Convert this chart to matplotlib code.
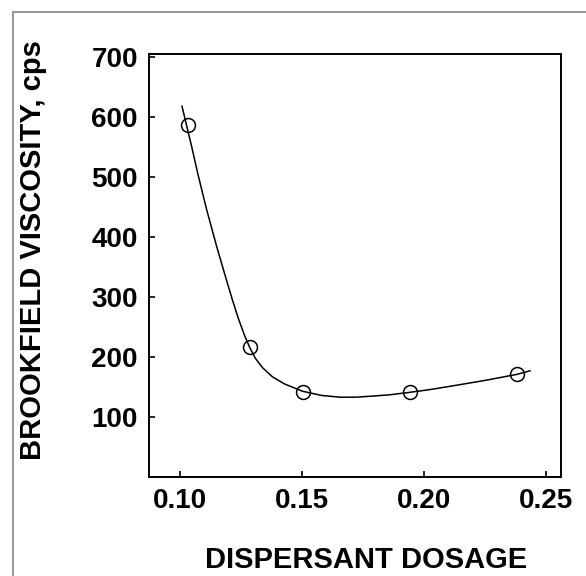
import matplotlib.pyplot as plt

plt.rcParams['font.family'] = ['Liberation Sans', 'DejaVu Sans']
plt.rcParams['font.weight'] = 'bold'

# measured points
dosage = [0.1034, 0.1288, 0.1504, 0.1943, 0.2380]
viscosity = [586, 217, 142, 142, 171]

# fitted curve
curve_x = [0.1010, 0.1030, 0.1050, 0.1075, 0.1110, 0.1150, 0.1190, 0.1215,
           0.1240, 0.1265, 0.1287, 0.1310, 0.1340, 0.1380, 0.1430, 0.1503,
           0.1580, 0.1656, 0.1720, 0.1796, 0.1860, 0.1940, 0.2030, 0.2134,
           0.2250, 0.2380, 0.2434]
curve_y = [618, 584, 550, 505, 447, 387, 331, 297,
           265, 237, 216, 198, 182, 167, 155, 143,
           136, 133, 133, 135, 137, 141, 146, 153,
           161, 171, 177]

x_ticks = [0.10, 0.15, 0.20, 0.25]
x_labels = ['0.10', '0.15', '0.20', '0.25']
y_ticks = [100, 200, 300, 400, 500, 600, 700]

fig = plt.figure(figsize=(5.86, 5.76), dpi=100)
ax = fig.add_axes([149 / 586, 1 - 477 / 576, 412 / 586, 423 / 576])

ax.plot(curve_x, curve_y, color='black', lw=1.1)
ax.plot(dosage, viscosity, 'o', mfc='none', mec='black', ms=10, mew=1.1)

ax.set_xlim(0.0875, 0.2561)
ax.set_ylim(0, 705)
ax.set_xticks(x_ticks)
ax.set_xticklabels(x_labels)
ax.set_yticks(y_ticks)
ax.tick_params(direction='in', length=4, width=1.2, labelsize=20, pad=8)
for s in ax.spines.values():
    s.set_linewidth(1.4)

fig.text(33 / 586, 1 - 250 / 576, 'BROOKFIELD VISCOSITY, cps', rotation=90,
         ha='center', va='center', fontsize=21, fontweight='bold')
fig.text(366 / 586, 1 - 568 / 576, 'DISPERSANT DOSAGE', ha='center',
         va='baseline', fontsize=21, fontweight='bold')

# grey frame around the figure (top and left edges visible)
fx, fy = 12.5 / 586, 1 - 12 / 576
fig.add_artist(plt.Line2D([fx, 1], [fy, fy], color='#999999', lw=1.5))
fig.add_artist(plt.Line2D([fx, fx], [0, fy], color='#999999', lw=1.5))

fig.savefig('out.png', dpi=100)
